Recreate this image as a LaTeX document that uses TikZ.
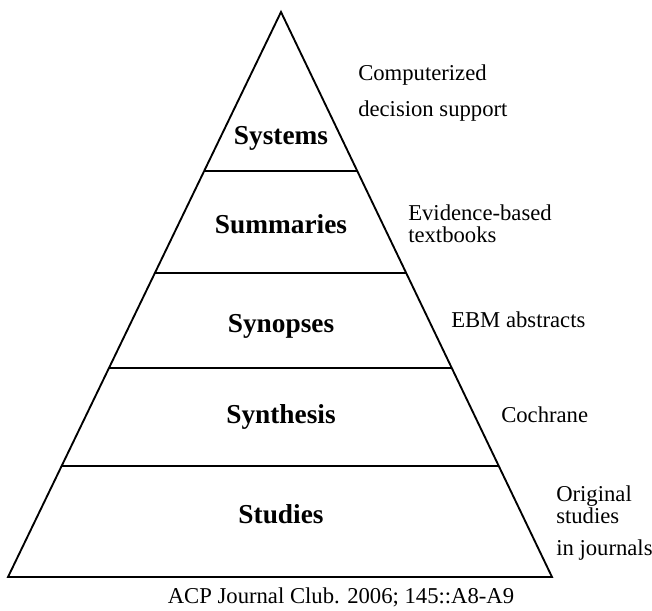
\documentclass[tikz,border=0pt]{standalone}
\usepackage{fontspec}
\setmainfont{Liberation Serif}
\usetikzlibrary{calc}
\begin{document}
\begin{tikzpicture}[x=0.75pt,y=-0.75pt,
    level/.style={font=\fontsize{20.5}{24}\selectfont\bfseries, anchor=base, inner sep=0pt},
    side/.style={font=\fontsize{17}{20}\selectfont, anchor=base west, inner sep=0pt},
    edge/.style={line width=1.4pt, line join=miter}]
\useasboundingbox (0,0) rectangle (652,610);
\coordinate (top) at (281,12);
\coordinate (bl) at (8,577);
\coordinate (br) at (552,577);
\draw[edge] (top) -- (bl) -- (br) -- cycle;
% layer borders
\foreach \t/\n in {0.2814/1,0.4619/2,0.6301/3,0.8035/4}{
  \draw[edge] ($(top)!\t!(bl)$) -- ($(top)!\t!(br)$);
}
\node[level] (sys) at (281,144){Systems};
\node[level] (sum) at (281,233){Summaries};
\node[level] (syn) at (281,332){Synopses};
\node[level] (synth) at (281,423){Synthesis};
\node[level] (stu) at (281,523){Studies};

\node[side] (cds1) at (358,80){Computerized};
\node[side] (cds2) at (358,116){decision support};
\node[side] (ebt1) at (408,220){Evidence-based};
\node[side] (ebt2) at (408,242){textbooks};
\node[side] (ebm) at (451,327){EBM abstracts};
\node[side] (coch) at (501,422){Cochrane};
\node[side] (orig1) at (556,501){Original};
\node[side] (orig2) at (556,523){studies};
\node[side] (orig3) at (556,555){in journals};

\node[side, anchor=base] (cite) at (341,603){ACP Journal Club. 2006; 145::A8-A9};
\end{tikzpicture}
\end{document}
